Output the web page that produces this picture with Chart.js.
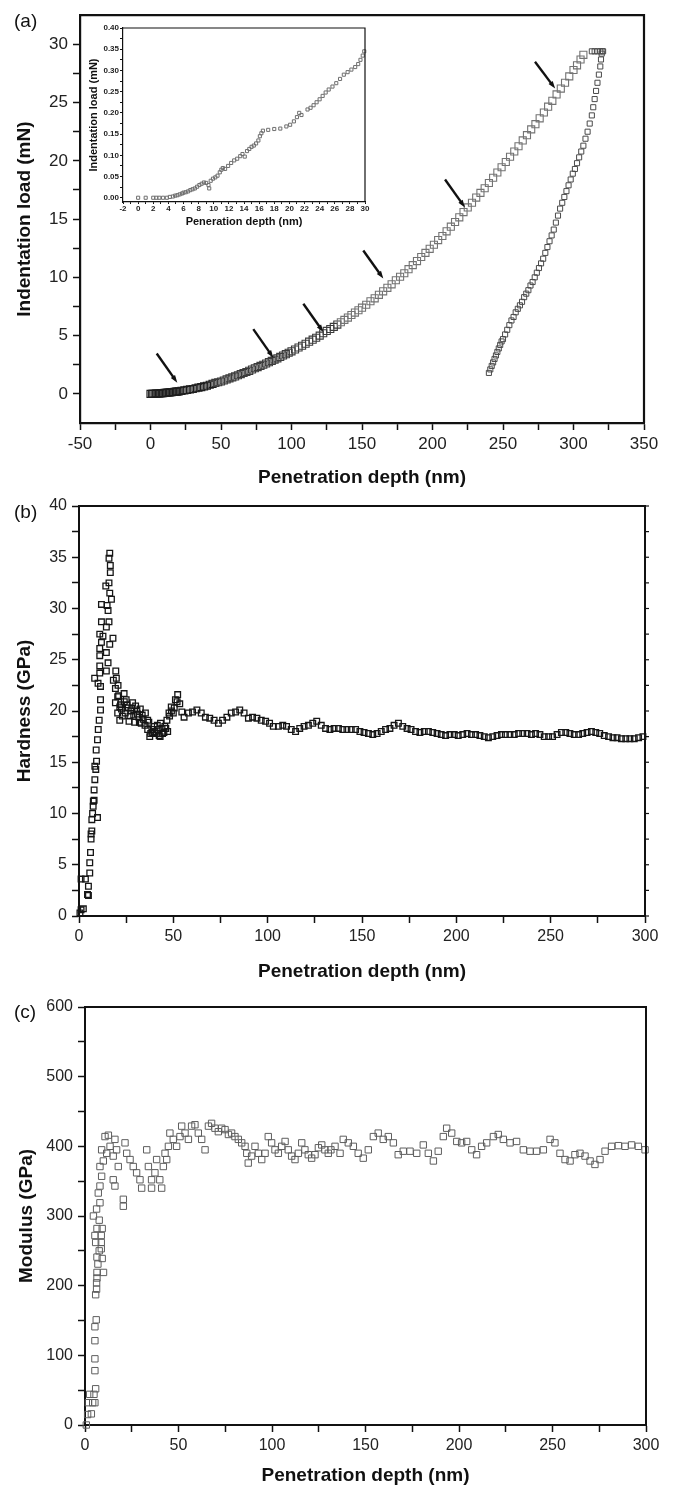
<!DOCTYPE html>
<html>
<head>
<meta charset="utf-8">
<title>Nanoindentation curves</title>
<script src="https://cdn.jsdelivr.net/npm/chart.js@4.4.1/dist/chart.umd.min.js"></script>
<style>
    html, body { margin: 0; padding: 0; background: #fff; }
    #page { position: relative; width: 673px; height: 1487px; overflow: hidden; background: #fff; }
    #page canvas { position: absolute; }
    .tag { position: absolute; font: 19px 'Liberation Sans', Arial, sans-serif; line-height: 19px; color: #111; }
</style>
</head>
<body>
<div id="page">
    <canvas id="loadChart" width="673" height="490" style="left:0px;top:0px"></canvas>
    <canvas id="insetChart" width="290" height="212" style="left:85px;top:20px"></canvas>
    <canvas id="hardChart" width="673" height="500" style="left:0px;top:490px"></canvas>
    <canvas id="modChart" width="673" height="502" style="left:0px;top:985px"></canvas>
    <div class="tag" style="left:14px;top:11px">(a)</div>
    <div class="tag" style="left:14px;top:502px">(b)</div>
    <div class="tag" style="left:14px;top:1002px">(c)</div>
</div>
<script>
// ---- (a) load-displacement, [depth nm, load mN] ----
var loadingCurve = [[0,0],[1,0],[2,0.01],[3,0.01],[4,0.02],[5,0.03],[6,0.03],[7,0.04],[8,0.05],[9,0.07],[10,0.08],[11,0.09],[12,0.1],[13,0.12],[14,0.13],[15,0.15],[16,0.16],[17,0.17],[18,0.19],[19,0.2],[20,0.22],[22,0.26],[24,0.3],[26,0.34],[28,0.38],[30,0.42],[32,0.48],[34,0.53],[36,0.58],[38,0.64],[40,0.7],[42,0.78],[44,0.86],[46,0.94],[48,1.0],[50,1.06],[52,1.15],[54,1.24],[56,1.33],[58,1.42],[60,1.5],[62,1.6],[64,1.7],[66,1.79],[68,1.88],[70,1.98],[72,2.09],[74,2.2],[76,2.3],[78,2.4],[80,2.5],[82,2.61],[84,2.72],[86,2.83],[88,2.94],[90,3.05],[92,3.17],[94,3.29],[96,3.41],[98,3.53],[100,3.65],[102.5,3.81],[105,3.98],[107.5,4.13],[110,4.3],[112.5,4.48],[115,4.65],[117.5,4.82],[120,5.0],[122.5,5.2],[125,5.4],[127.5,5.57],[130,5.75],[132.5,5.95],[135,6.15],[137.5,6.35],[140,6.55],[142.5,6.77],[145,6.98],[147.5,7.18],[150,7.4],[153,7.65],[156,7.95],[159,8.2],[162,8.5],[165,8.8],[168,9.1],[171,9.4],[174,9.75],[177,10.05],[180,10.35],[183,10.7],[186,11.05],[189,11.4],[192,11.75],[195,12.1],[198,12.45],[201,12.8],[204,13.2],[207,13.55],[210,13.95],[213,14.35],[216,14.75],[219,15.15],[222,15.6],[225,16.0],[228,16.4],[231,16.85],[234,17.25],[237,17.65],[240,18.1],[243,18.55],[246,19.0],[249,19.45],[252,19.9],[255,20.35],[258,20.8],[261,21.25],[264,21.75],[267,22.2],[270,22.7],[273,23.15],[276,23.65],[279,24.15],[282,24.65],[285,25.15],[288,25.7],[291,26.2],[294,26.7],[297,27.25],[300,27.8],[302.5,28.2],[305,28.7],[307,29.1]];
var unloadingCurve = [[313,29.4],[315,29.4],[317,29.4],[319,29.4],[321,29.4],[320.5,29.4],[320,29.2],[319.5,28.7],[319,28.1],[318,27.4],[317,26.7],[316,26.0],[315,25.3],[314,24.6],[313,23.9],[311.5,23.2],[310,22.5],[308.5,21.9],[307,21.3],[305.5,20.8],[304,20.3],[302.5,19.8],[301,19.3],[299.5,18.9],[298,18.4],[296.5,17.9],[295,17.4],[293.5,16.9],[292,16.4],[290.5,15.9],[289,15.3],[287.5,14.7],[286,14.1],[284.5,13.6],[283,13.1],[281.5,12.6],[280,12.1],[278.5,11.6],[277,11.2],[275.5,10.8],[274,10.4],[272.5,10.0],[271,9.6],[269.5,9.3],[268,8.9],[266.5,8.6],[265,8.3],[263.5,7.9],[262,7.6],[260.5,7.3],[259,7.0],[257.5,6.6],[256,6.3],[254.5,5.9],[253,5.5],[251.5,5.1],[250,4.7],[249,4.5],[248,4.2],[247,3.9],[246,3.6],[245,3.3],[244,3.0],[243,2.7],[242,2.4],[241,2.1],[240,1.8]];
// arrows: [tail depth, tail load, tip depth, tip load]
var loadArrows = [[4.4,3.47,19,0.96],[72.9,5.56,87.1,3.1],[108.4,7.73,122.6,5.3],[150.9,12.3,165.1,9.9],[208.9,18.4,223,16.0],[272.7,28.5,287,26.2]];
var loadXTicks = [-50, 0, 50, 100, 150, 200, 250, 300, 350];
var loadYTicks = [0, 5, 10, 15, 20, 25, 30];

// ---- inset: first 30 nm ----
var insetCurve = [[0,0],[1,0],[2,0],[2.4,0],[2.8,0],[3.3,0],[3.8,0],[4.2,0.002],[4.6,0.003],[4.9,0.005],[5.2,0.006],[5.5,0.008],[5.8,0.01],[6.0,0.012],[6.3,0.013],[6.6,0.015],[6.9,0.018],[7.2,0.02],[7.5,0.022],[7.8,0.026],[8.1,0.03],[8.4,0.033],[8.7,0.036],[9.0,0.035],[9.3,0.03],[9.4,0.022],[9.6,0.04],[9.9,0.045],[10.2,0.048],[10.5,0.052],[10.8,0.06],[11.0,0.066],[11.2,0.07],[11.5,0.068],[11.9,0.075],[12.3,0.082],[12.7,0.088],[13.1,0.092],[13.5,0.098],[13.8,0.103],[14.1,0.097],[14.4,0.11],[14.7,0.115],[15.0,0.12],[15.3,0.123],[15.6,0.128],[15.9,0.135],[16.1,0.145],[16.3,0.152],[16.5,0.158],[17.2,0.16],[18.0,0.162],[18.8,0.163],[19.6,0.168],[20.1,0.172],[20.6,0.18],[21.0,0.19],[21.3,0.2],[21.6,0.195],[22.4,0.208],[22.8,0.212],[23.2,0.218],[23.6,0.225],[24.0,0.232],[24.4,0.24],[24.8,0.248],[25.2,0.255],[25.7,0.262],[26.2,0.27],[26.7,0.28],[27.2,0.29],[27.7,0.296],[28.2,0.302],[28.7,0.308],[29.1,0.315],[29.4,0.325],[29.7,0.335],[29.9,0.345]];
var insetXTicks = [-2, 0, 2, 4, 6, 8, 10, 12, 14, 16, 18, 20, 22, 24, 26, 28, 30];
var insetYTicks = [0, 0.05, 0.1, 0.15, 0.2, 0.25, 0.3, 0.35, 0.4];

// ---- (b) hardness, [depth nm, GPa] ----
var hardnessCurve = [[0.5,0.3],[1.1,0.6],[2.3,0.7],[1.1,3.6],[3.4,3.6],[4.5,2.1],[5,2.0],[5,2.9],[5.7,4.2],[5.7,5.2],[6.1,6.2],[6.4,7.5],[6.8,8.3],[6.4,8.0],[6.8,9.4],[7.2,10.0],[7.5,10.7],[8,11.3],[7.6,11.2],[8,12.3],[8.4,13.3],[8.9,14.3],[8.4,14.6],[9.3,15.1],[9.1,16.2],[9.8,17.2],[10.2,18.2],[10.7,19.1],[11.4,20.1],[11.4,21.1],[11.4,22.4],[9.8,9.6],
    [8.3,23.2],[10.1,22.7],[11,23.7],[11,24.4],[11,25.4],[11,26.1],[11,27.5],[11.9,26.7],[11.9,28.7],[11.9,30.4],[12.7,27.3],[14.5,23.9],[14.5,25.7],[14.5,28.2],[14.2,32.2],[14.9,30.3],[15.4,24.7],[15.4,29.8],[15.9,28.7],[15.9,32.5],[15.9,34.9],[16.3,26.5],[16.3,31.5],[16.3,35.4],[16.6,34.2],[16.6,33.5],[17.2,30.9],[18,27.1],[19.5,23.9],[19.8,23.2],[20.7,22.5],
    [18.2,23],[19.3,22.2],[20.5,21.4],[19.3,20.8],[21.6,20.4],[20.5,19.8],[21.6,19.1],[21,21.5],[22,20.6],[22.5,20.2],[23,19.5],[23.9,21.7],[24,20.9],[24.5,19.8],[25,21.1],[25.5,20.6],[26.1,20.3],[26.5,19.0],[27,19.5],[27.5,20.0],[28,20.3],[28.4,20.8],[29,19.6],[29.5,18.9],[30,20.5],[30.7,20.1],[31,19.7],[31.8,19.4],[32,18.9],[32.5,20.2],[33,18.8],[33.5,19.6],[34,19.2],[35,18.6],[35.2,19.8],[36.4,19.1],[36.4,18.2],[37,18.9],[37.5,17.5],[38,17.8],[38.6,18.2],[39,17.9],[39.8,18.5],[40,18.0],[40.9,17.8],[41.5,18.6],[42,18.2],[42.5,17.6],[43,17.5],[43.2,18.8],[44,18.3],[44.3,17.8],[45,17.9],[45.5,18.5],[46,18.3],[46.6,19.1],[47,18.0],[47.7,19.8],[48,19.5],[48.9,20.4],[49,20.0],[50,19.8],[50.5,20.3],[51.1,21.1],[52,20.9],[52.3,21.6],[53.4,20.7],[54.5,19.9],[55.7,19.4],
    [58,19.8],[60.2,19.9],[62.5,20.1],[64.8,19.8],[67,19.4],[69.3,19.3],[71.6,19.1],[73.9,18.8],[76.1,19.1],[78.4,19.4],[80.7,19.8],[83,19.9],[85.2,20.1],[87.5,19.8],[89.8,19.3],[92,19.4],[94.3,19.3],[96.6,19.1],[98.9,19.0],[101,18.8],[103,18.5],[105.7,18.5],[108,18.6],[110,18.5],[112.5,18.2],[114.8,18.0],[117,18.3],[119.3,18.5],[121.6,18.6],[123.9,18.8],[126,19.0],[128.4,18.6],[130.7,18.3],[133,18.2],[135.2,18.3],[137.5,18.3],[139.8,18.2],[142,18.2],[144.3,18.2],[146.6,18.2],[148.9,18.0],[151.1,17.9],[153.4,17.8],[155.7,17.7],[158,17.8],[160.2,18.0],[162.5,18.2],[164.8,18.3],[167,18.6],[169.3,18.8],[171.6,18.5],[173.9,18.3],[176,18.2],[178.4,18.0],[180.7,17.9],[183,18.0],[185.2,18.0],[187.5,17.9],[189.8,17.8],[192,17.7],[194.3,17.6],[196.6,17.7],[198.9,17.7],[201,17.6],[203.4,17.7],[205.7,17.8],[208,17.7],[210.2,17.7],[212.5,17.6],[214.8,17.5],[217,17.4],[219.3,17.5],[221.6,17.6],[223.9,17.7],[226,17.7],[228.4,17.7],[230.7,17.7],[233,17.8],[235.2,17.8],[237.5,17.8],[239.8,17.7],[242,17.8],[244.3,17.7],[246.6,17.5],[248.9,17.5],[251,17.5],[253.4,17.7],[255.7,17.9],[258,17.9],[260.2,17.8],[262.5,17.7],[264.8,17.7],[267,17.8],[269.3,17.9],[271.6,18.0],[273.9,17.9],[276,17.8],[278.4,17.6],[280.7,17.5],[283,17.4],[285.2,17.4],[287.5,17.3],[289.8,17.3],[292,17.3],[294.3,17.3],[296.6,17.4],[298.9,17.5]];
var hardXTicks = [0, 50, 100, 150, 200, 250, 300];
var hardYTicks = [0, 5, 10, 15, 20, 25, 30, 35, 40];

// ---- (c) modulus, [depth nm, GPa] ----
var modulusCurve = [[0.7,0],[1.4,15],[3.4,16],[1.8,32],[2.5,44],[4.1,32],[5.3,32],[4.8,44],[5.7,52],[5.3,78],[5.3,95],[5.3,121],[5.3,141],[6.0,151],[5.7,187],[6.2,195],[6.2,204],[6.4,211],[6.4,219],[9.9,219],[6.9,231],[6.4,241],[9.2,239],[7.6,250],[8.7,253],[5.7,262],[8.7,262],[5.3,272],[8.7,272],[6.4,282],[9.2,282],[7.6,294],
    [4.5,300],[6.2,310],[8.0,319],[7.1,333],[8.0,343],[8.9,357],[8.0,371],[9.8,379],[10.7,414],[12.5,416],[8.9,395],[11.6,390],[13.4,400],[15.1,386],[16.0,410],[16.9,395],[17.8,371],[15.1,352],[20.5,324],[20.5,314],[16.0,343],[21.4,405],[22.3,390],[24.1,381],[25.8,371],[27.6,362],[29.4,352],[30.3,340],[33.0,395],[33.9,371],[35.6,352],[35.6,340],[37.4,362],[38.3,381],[40.0,352],[41.0,340],[41.9,371],[42.8,390],[43.7,381],[44.6,400],[45.4,419],[47.2,410],[49.0,400],[50.8,414],[51.7,429],[53.5,419],[55.3,410],[57.0,429],[58.8,431],[60.6,419],[62.4,410],[64.2,395],[66.0,429],[67.7,433],[69.5,426],[71.3,421],[73.1,426],[74.9,424],[76.7,417],[78.4,419],[80.2,414],[82.0,410],[83.8,405],[85.6,400],[86.5,390],[87.3,376],[89.1,386],[90.9,400],[92.7,390],[94.5,381],[96.3,390],[98.0,414],[99.8,405],[101.6,395],[103.4,390],[105.2,400],[107.0,407],[108.7,395],[110.5,386],[112.3,381],[114.1,390],[115.9,405],[117.6,395],[119.4,388],[121.2,383],[123.0,388],[124.8,398],[126.6,402],[128.3,395],[130.1,390],
    [131.5,395],[133.7,400],[136.4,390],[138.1,410],[140.8,405],[143.5,400],[146.1,390],[148.8,383],[151.5,395],[154.2,414],[156.8,419],[159.5,410],[162.2,414],[164.9,405],[167.5,388],[170.2,393],[173.8,393],[177.4,390],[180.9,402],[183.6,390],[186.3,379],[188.9,393],[191.6,414],[193.4,426],[196.1,419],[198.8,407],[201.4,405],[204.1,407],[206.8,395],[209.4,388],[212.1,400],[214.8,405],[218.4,414],[221.0,417],[223.7,410],[227.3,405],[230.8,407],[234.4,395],[238.0,393],[241.5,393],[245.1,395],[248.7,410],[251.3,405],[254.0,390],[256.7,381],[259.4,379],[262.0,388],[264.7,390],[267.4,386],[270.1,379],[272.7,374],[275.4,381],[278.1,393],[281.6,400],[285.2,401],[288.8,400],[292.3,402],[295.9,400],[299.5,395]];
var modXTicks = [0, 50, 100, 150, 200, 250, 300];
var modYTicks = [0, 100, 200, 300, 400, 500, 600];

var sansFont = "'Liberation Sans', Arial, sans-serif";

function toPoints(pairs) {
    return pairs.map(function (p) { return { x: p[0], y: p[1] }; });
}

// major ticks get labels, a minor tick sits halfway between each pair
function axis(major, opts) {
    return {
        type: 'linear',
        position: opts.position,
        min: opts.min,
        max: opts.max,
        afterBuildTicks: function (scale) {
            var t = [];
            for (var i = 0; i < major.length; i++) {
                t.push({ value: major[i] });
                if (i < major.length - 1) t.push({ value: (major[i] + major[i + 1]) / 2 });
            }
            scale.ticks = t;
        },
        afterFit: function (scale) {
            if (opts.position === 'left') scale.width = opts.size;
            else scale.height = opts.size;
        },
        ticks: {
            autoSkip: false,
            maxRotation: 0,
            minRotation: 0,
            padding: opts.tickPad,
            color: '#222',
            font: { family: sansFont, size: opts.tickFont, weight: opts.tickWeight || 'normal' },
            callback: function (value) {
                return major.indexOf(value) >= 0 ? (opts.decimals ? value.toFixed(opts.decimals) : String(value)) : '';
            }
        },
        grid: { drawOnChartArea: false, drawTicks: true, tickLength: opts.tickLen, tickColor: '#111', tickWidth: opts.tickWidth },
        border: { display: true, color: '#111', width: opts.lineWidth },
        title: {
            display: true,
            text: opts.title,
            color: '#111',
            font: { family: sansFont, size: opts.titleFont, weight: 'bold' },
            padding: opts.position === 'left' ? { top: opts.titlePad, bottom: 0 } : { top: 0, bottom: opts.titlePad }
        }
    };
}

// closes the box on top and right, optionally with short ticks on the right side
var framePlugin = {
    id: 'frame',
    afterDraw: function (chart, args, options) {
        var a = chart.chartArea;
        var ctx = chart.ctx;
        ctx.save();
        ctx.strokeStyle = '#111';
        ctx.lineWidth = options.width || 2;
        ctx.beginPath();
        ctx.moveTo(a.left, a.top);
        ctx.lineTo(a.right, a.top);
        ctx.lineTo(a.right, a.bottom);
        ctx.stroke();
        if (options.rightTicks) {
            ctx.lineWidth = 1.2;
            chart.scales.y.ticks.forEach(function (t) {
                var py = chart.scales.y.getPixelForValue(t.value);
                ctx.beginPath();
                ctx.moveTo(a.right, py);
                ctx.lineTo(a.right + 4, py);
                ctx.stroke();
            });
        }
        ctx.restore();
    }
};

var arrowPlugin = {
    id: 'arrows',
    afterDatasetsDraw: function (chart) {
        var xs = chart.scales.x, ys = chart.scales.y, ctx = chart.ctx;
        ctx.save();
        ctx.strokeStyle = '#111';
        ctx.fillStyle = '#111';
        ctx.lineWidth = 2.4;
        loadArrows.forEach(function (a) {
            var x0 = xs.getPixelForValue(a[0]), y0 = ys.getPixelForValue(a[1]);
            var x1 = xs.getPixelForValue(a[2]), y1 = ys.getPixelForValue(a[3]);
            var ang = Math.atan2(y1 - y0, x1 - x0);
            ctx.beginPath();
            ctx.moveTo(x0, y0);
            ctx.lineTo(x1 - 5 * Math.cos(ang), y1 - 5 * Math.sin(ang));
            ctx.stroke();
            ctx.beginPath();
            ctx.moveTo(x1, y1);
            ctx.lineTo(x1 - 8 * Math.cos(ang - 0.33), y1 - 8 * Math.sin(ang - 0.33));
            ctx.lineTo(x1 - 8 * Math.cos(ang + 0.33), y1 - 8 * Math.sin(ang + 0.33));
            ctx.closePath();
            ctx.fill();
        });
        ctx.restore();
    }
};

document.addEventListener('DOMContentLoaded', function () {

    var ctx = document.getElementById('loadChart').getContext('2d');
    var loadChart = new Chart(ctx, {
        type: 'scatter',
        data: {
            datasets: [{
                data: toPoints(loadingCurve),
                pointStyle: 'rect',
                pointRadius: 5,
                pointBorderWidth: 1.1,
                // the early part of the curve reads much darker in the print
                pointBorderColor: function (c) {
                    var d = c.raw ? c.raw.x : 0;
                    return d < 45 ? '#1e1e1e' : (d < 135 ? '#3c3c3c' : '#737373');
                },
                pointBackgroundColor: 'rgba(255,255,255,0)',
                clip: false
            }, {
                data: toPoints(unloadingCurve),
                pointStyle: 'rect',
                pointRadius: 3.6,
                pointBorderWidth: 1,
                pointBorderColor: '#4a4a4a',
                pointBackgroundColor: 'rgba(255,255,255,0)',
                clip: false
            }]
        },
        options: {
            responsive: false,
            animation: false,
            layout: { padding: { top: 12, right: 29, left: 0, bottom: 0 } },
            plugins: { legend: { display: false }, tooltip: { enabled: false }, frame: { width: 2.2 } },
            scales: {
                x: axis(loadXTicks, { position: 'bottom', min: -50, max: 350, size: 67, tickPad: 4, tickFont: 17, tickLen: 7, tickWidth: 1.5, lineWidth: 2.2, title: 'Penetration depth (nm)', titleFont: 19, titlePad: 1 }),
                y: axis(loadYTicks, { position: 'left', min: -2.5, max: 32.5, size: 80, tickPad: 5, tickFont: 17, tickLen: 7, tickWidth: 1.5, lineWidth: 2.2, title: 'Indentation load (mN)', titleFont: 19, titlePad: 13.6 })
            }
        },
        plugins: [framePlugin, arrowPlugin]
    });

    var ctx = document.getElementById('insetChart').getContext('2d');
    var insetChart = new Chart(ctx, {
        type: 'scatter',
        data: {
            datasets: [{
                data: toPoints(insetCurve),
                pointStyle: 'rect',
                pointRadius: 2.2,
                pointBorderWidth: 1,
                pointBorderColor: '#6f6f6f',
                pointBackgroundColor: 'rgba(255,255,255,0)',
                clip: false
            }]
        },
        options: {
            responsive: false,
            animation: false,
            layout: { padding: { top: 8, right: 10, left: 0, bottom: 0 } },
            plugins: { legend: { display: false }, tooltip: { enabled: false }, frame: { width: 1.2 } },
            scales: {
                x: axis(insetXTicks, { position: 'bottom', min: -2, max: 30, size: 30, tickPad: 0, tickFont: 8, tickWeight: 'bold', tickLen: 2, tickWidth: 1, lineWidth: 1.2, title: 'Peneration depth (nm)', titleFont: 11, titlePad: 3 }),
                y: axis(insetYTicks, { position: 'left', min: -0.01, max: 0.4, size: 38, tickPad: 1, tickFont: 8, tickWeight: 'bold', tickLen: 3, tickWidth: 1, lineWidth: 1.2, decimals: 2, title: 'Indentation load (mN)', titleFont: 11, titlePad: 2.4 })
            }
        },
        plugins: [framePlugin]
    });

    var ctx = document.getElementById('hardChart').getContext('2d');
    var hardChart = new Chart(ctx, {
        type: 'scatter',
        data: {
            datasets: [{
                data: toPoints(hardnessCurve),
                pointStyle: 'rect',
                pointRadius: 4,
                pointBorderWidth: 1.3,
                pointBorderColor: '#161616',
                pointBackgroundColor: 'rgba(255,255,255,0)',
                clip: false
            }]
        },
        options: {
            responsive: false,
            animation: false,
            layout: { padding: { top: 16, right: 28, left: 0, bottom: 0 } },
            plugins: { legend: { display: false }, tooltip: { enabled: false }, frame: { width: 2, rightTicks: true } },
            scales: {
                x: axis(hardXTicks, { position: 'bottom', min: 0, max: 300, size: 74, tickPad: 4, tickFont: 16, tickLen: 7, tickWidth: 1.5, lineWidth: 2, title: 'Penetration depth (nm)', titleFont: 19, titlePad: 6.6 }),
                y: axis(hardYTicks, { position: 'left', min: 0, max: 40, size: 79, tickPad: 5, tickFont: 16, tickLen: 7, tickWidth: 1.5, lineWidth: 2, title: 'Hardness (GPa)', titleFont: 19, titlePad: 13.6 })
            }
        },
        plugins: [framePlugin]
    });

    var ctx = document.getElementById('modChart').getContext('2d');
    var modChart = new Chart(ctx, {
        type: 'scatter',
        data: {
            datasets: [{
                data: toPoints(modulusCurve),
                pointStyle: 'rect',
                pointRadius: 4.5,
                pointBorderWidth: 1,
                pointBorderColor: '#5e5e5e',
                pointBackgroundColor: 'rgba(255,255,255,0)',
                clip: false
            }]
        },
        options: {
            responsive: false,
            animation: false,
            layout: { padding: { top: 22, right: 27, left: 0, bottom: 0 } },
            plugins: { legend: { display: false }, tooltip: { enabled: false }, frame: { width: 2 } },
            scales: {
                x: axis(modXTicks, { position: 'bottom', min: 0, max: 300, size: 62, tickPad: 4, tickFont: 16, tickLen: 7, tickWidth: 1.5, lineWidth: 2, title: 'Penetration depth (nm)', titleFont: 19, titlePad: 0 }),
                y: axis(modYTicks, { position: 'left', min: 0, max: 600, size: 85, tickPad: 5, tickFont: 16, tickLen: 7, tickWidth: 1.5, lineWidth: 2, title: 'Modulus (GPa)', titleFont: 19, titlePad: 15.6 })
            }
        },
        plugins: [framePlugin]
    });

});
</script>
</body>
</html>
